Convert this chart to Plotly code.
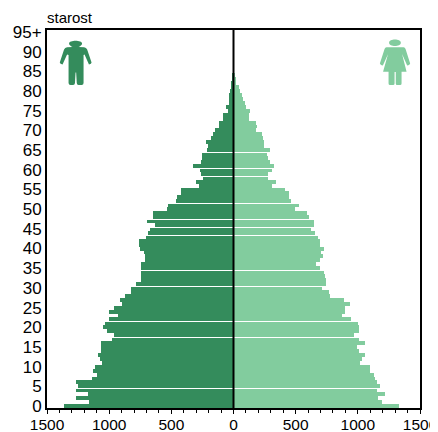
import re
import plotly.graph_objects as go

ages = list(range(96))
male = [1366,1165,1270,1173,1270,1248,1267,1136,1100,1130,1112,1058,1074,1090,1063,1063,1063,975,962,1015,
        1050,1037,1005,930,1005,962,900,913,876,822,822,782,742,747,747,747,742,710,710,720,
        752,758,763,702,686,675,635,699,651,648,533,530,466,453,426,426,279,300,244,265,
        273,327,260,257,252,212,206,222,179,163,145,120,120,83,83,43,64,40,38,38,
        27,24,19,13,5,0,0,0,0,0,0,0,0,0,0,0]
female = [1331,1195,1160,1222,1152,1179,1152,1142,1126,1096,1096,1019,1032,1059,1011,992,1059,1011,968,1013,
          1008,1003,947,874,896,896,938,885,778,767,714,741,741,733,725,693,666,693,719,703,
          725,693,695,679,655,626,647,647,610,594,495,527,463,449,447,414,310,342,278,275,
          307,323,294,281,273,294,246,246,240,233,184,190,184,128,126,134,102,91,75,67,
          50,45,21,19,16,0,0,0,0,0,0,0,0,0,0,0]
x_tick_vals = [-1500,-1000,-500,0,500,1000,1500]
x_tick_text = ["1500","1000","500","0","500","1000","1500"]
y_tick_vals = list(range(0,96,5))
y_tick_text = [str(a) for a in range(0,95,5)] + ["95+"]
seam_below = [5,9,18,22,31,35,44,46,48,52,59,61,65,72,74]

DARK = "#348C5C"
LIGHT = "#82CC9E"
PAGE_OFFSET = 8
W, H = 438-PAGE_OFFSET, 432-PAGE_OFFSET
L, R, T, B = 46.5-PAGE_OFFSET, 420-PAGE_OFFSET, 30-PAGE_OFFSET, 408-PAGE_OFFSET

widths = [0.78 if (a+1) in seam_below else 1.0 for a in ages]
offsets = [-0.5]*len(ages)

fig = go.Figure()
fig.add_bar(y=ages, x=[-v for v in male], orientation="h", marker=dict(color=DARK, line_width=0),
            width=widths, offset=offsets, name="muži")
fig.add_bar(y=ages, x=female, orientation="h", marker=dict(color=LIGHT, line_width=0),
            width=widths, offset=offsets, name="ženy")

male_icon = ("M68.5 43.5C68.5 39.8 81.5 39.8 81.5 43.5C81.5 45.2 79.5 46.3 78 47L83.5 47.3Q85.8 47.5 86.6 49.5"
             "L91 62.5Q91 64.2 88.4 64.6L84 54.5L83 55L83 83Q83 85 81 85L78 85Q76.3 85 76.2 83L75.6 72.5L75 72.5L74.4 83"
             "Q74.3 85 72.5 85L70 85Q68 85 68 83L68 55L66.5 54.5L62 64.6Q59.4 64.2 59.2 62.5L63.5 49.5Q64.3 47.5 66.5 47.3"
             "L72 47C70.5 46.3 68.5 45.2 68.5 43.5Z")
female_icon = ("M388.5 42.8C388.5 38.4 400.3 38.4 400.3 42.8C400.3 47.2 388.5 47.2 388.5 42.8Z"
               "M386 47.3L403 47.3Q404.5 47.5 405 49L409.6 63.5Q409 65.5 406.6 65.5L401.5 54L406 71.7L401 71.7L401 83.5"
               "Q401 85 399.5 85L396.5 85Q395.2 85 395.2 83.5L395.2 72L394 72L394 83.5Q394 85 392.5 85L389.5 85"
               "Q388 85 388 83.5L388 71.7L382.5 71.7L387.5 54L382.3 65.5Q380 65.5 379.3 63.5L384 49Q384.5 47.5 386 47.3Z")

def to_anchor_path(d):
    out = []
    for tok in re.split(r"([A-Za-z])", d):
        if re.fullmatch(r"[A-Za-z]", tok):
            out.append(tok)
        elif tok.strip():
            v = [float(t) for t in tok.split()]
            out.append(" ".join(f"{v[i]:.2f},{-v[i+1]:.2f}" for i in range(0, len(v), 2)))
    return " ".join(out)

shapes = [dict(type="line", xref="x", yref="paper", x0=0, x1=0, y0=0, y1=1,
               line=dict(color="black", width=2), layer="above")]
for path, col in ((male_icon, DARK), (female_icon, LIGHT)):
    shapes.append(dict(type="path", xsizemode="pixel", ysizemode="pixel", xref="paper", yref="paper",
                       xanchor=(-PAGE_OFFSET-L)/(R-L), yanchor=(B+PAGE_OFFSET)/(B-T),
                       path=to_anchor_path(path), fillcolor=col, line_width=0, layer="above"))

fig.update_layout(
    width=W, height=H, autosize=False,
    margin=dict(l=L, r=W-R, t=T, b=H-B, pad=0),
    paper_bgcolor="white", plot_bgcolor="white",
    barmode="overlay", bargap=0, showlegend=False,
    font=dict(family="Liberation Sans, Arial, sans-serif", color="black", size=17),
    shapes=shapes,
    annotations=[dict(text="starost", xref="paper", yref="paper", x=0, y=1, yshift=2, xshift=-2,
                      xanchor="left", yanchor="bottom", showarrow=False, font=dict(size=15))],
)
fig.update_xaxes(automargin=False, ticklabeloverflow="allow", ticklabelstandoff=-3, range=[-1500,1500], tickmode="array",
                 tickvals=x_tick_vals, ticktext=x_tick_text,
                 ticks="outside", ticklen=4, tickwidth=1, tickcolor="black", showgrid=False, zeroline=False,
                 showline=True, linecolor="black", linewidth=2, mirror=True,
                 minor=dict(tick0=0, dtick=100, ticks="outside", ticklen=3, tickwidth=1, tickcolor="black", showgrid=False),
                 tickfont=dict(size=15.5), tickangle=0)
fig.update_yaxes(automargin=False, range=[-0.5,95.5], tickmode="array", tickvals=y_tick_vals, ticktext=y_tick_text, ticks="",
                 showgrid=False, zeroline=False, showline=True, linecolor="black", linewidth=2, mirror=True,
                 tickfont=dict(size=17))
fig.write_html("out.html")
